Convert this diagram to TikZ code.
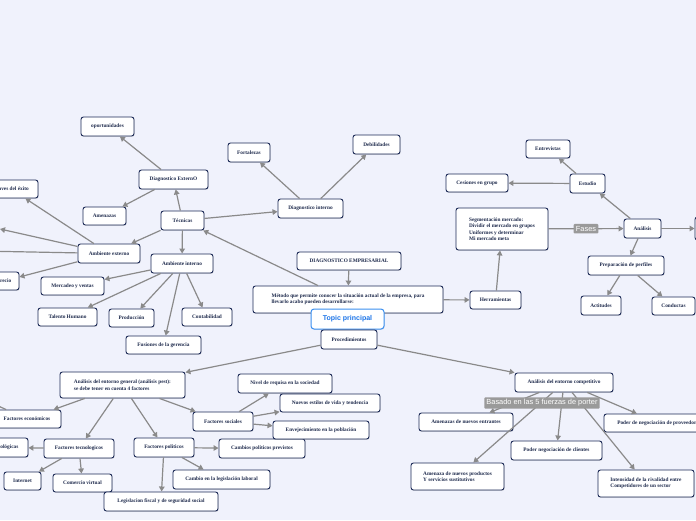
\documentclass[tikz,border=0pt]{standalone}
\usepackage{fontspec}
\setmainfont{Liberation Serif}
\newfontfamily\sansf{Liberation Sans}
\usetikzlibrary{arrows.meta,shadows}
\definecolor{bgcol}{HTML}{F0F2FC}
\definecolor{navy}{HTML}{1C2A56}
\definecolor{navytext}{HTML}{1F2B4D}
\definecolor{arrowgray}{HTML}{8A8A8A}
\definecolor{labelgray}{HTML}{9A9A9A}
\definecolor{topicblue}{HTML}{3B8FF0}
\definecolor{topictext}{HTML}{1A73E8}
\newcommand{\boxfont}{\fontsize{5.3}{6.4}\selectfont\bfseries}
\newcommand{\lblfont}{\sansf\fontsize{7.4}{8}\selectfont}
\tikzset{
  box/.style={draw=navy, fill=white, rounded corners=2.5pt, line width=0.9pt,
    font=\boxfont, text=navytext, inner sep=2pt, align=center, minimum height=19pt,
    drop shadow={opacity=0.25, shadow xshift=0.6pt, shadow yshift=-0.9pt}},
  con/.style={draw=arrowgray, line width=1.2pt, -{Triangle[length=5pt,width=5.5pt]}},
  plainline/.style={draw=arrowgray, line width=1.2pt},
  lbl/.style={fill=labelgray, text=white, font=\lblfont, inner sep=2.2pt, rounded corners=1pt},
  topic/.style={draw=topicblue, fill=white, rounded corners=3pt, line width=1pt,
    font=\sansf\fontsize{7}{8}\selectfont\bfseries, text=topictext, minimum height=20pt,
    minimum width=73pt, drop shadow={opacity=0.2, shadow xshift=0.6pt, shadow yshift=-0.9pt}}
}
\begin{document}
\begin{tikzpicture}[x=1pt,y=-1pt]
\useasboundingbox (0,0) rectangle (696,520);
\fill[bgcol] (0,0) rectangle (696,520);
\clip (0,0) rectangle (696,520);

% ---- nodes ----
\node[box, minimum width=53pt] (opor) at (107.5,126.5) {oportunidades};
\node[box, minimum width=69pt] (dext) at (173.5,179.5) {Diagnostico ExternO};
\node[box, minimum width=43pt, minimum height=18pt] (amen) at (104.5,216) {Amenazas};
\node[box, minimum width=43pt] (tec) at (182.5,220.5) {Técnicas};
\node[box, minimum width=62pt] (aext) at (109,253.5) {Ambiente externo};
\node[box, minimum width=62pt] (aint) at (182,263.5) {Ambiente interno};
\node[box, minimum width=54pt, minimum height=18pt] (claves) at (11,189) {Claves del éxito};
\node[box, minimum width=30pt, minimum height=18pt] (precio) at (4,281) {Precio};
\node[box, minimum width=63pt, minimum height=18pt] (merc) at (72.5,286) {Mercadeo y ventas};
\node[box, minimum width=59pt, minimum height=18pt] (tal) at (67.5,317) {Talento Humano};
\node[box, minimum width=45pt, minimum height=18pt] (prod) at (131.5,318) {Producción};
\node[box, minimum width=50pt, minimum height=18pt] (cont) at (207,317) {Contabilidad};
\node[box, minimum width=75pt, minimum height=18pt] (fus) at (163.5,345) {Fusiones de la gerencia};
\node[box, minimum width=42pt] (fort) at (249,152.5) {Fortalezas};
\node[box, minimum width=47pt] (deb) at (376.5,144.5) {Debilidades};
\node[box, minimum width=65pt] (dint) at (310.5,208.5) {Diagnostico interno};
\node[box, minimum width=104pt, minimum height=18pt] (demp) at (349,261) {DIAGNOSTICO EMPRESARIAL};
\node[box, minimum width=190pt, minimum height=27pt, align=left] (met) at (348,299.5)
  {Método que permite conocer la situación actual de la empresa, para\\llevarlo acabo pueden desarrollarse:};
\node[topic] (topic) at (347.5,319) {Topic principal};
\node[box, minimum width=56pt] (proc) at (349,339.5) {Procedimientos};
\node[box, minimum width=51pt, minimum height=18pt] (herr) at (495.5,300) {Herramientas};
\node[box, minimum width=92pt, minimum height=42pt, align=left] (seg) at (502,229)
  {Segmentación mercado:\\Dividir el mercado en grupos\\Uniformes y determinar\\Mi mercado meta};
\node[box, minimum width=37pt] (anal) at (642.5,228.5) {Análisis};
\node[box, minimum width=50pt, minimum height=23pt] (rnode) at (720,228.5) {};
\node[box, minimum width=35pt] (est) at (587.5,183.5) {Estudio};
\node[box, minimum width=44pt, minimum height=18pt] (entr) at (548,149) {Entrevistas};
\node[box, minimum width=62pt, minimum height=18pt] (ces) at (477,183) {Cesiones en grupo};
\node[box, minimum width=76pt] (prep) at (626,265.5) {Preparación de perfiles};
\node[box, minimum width=40pt] (act) at (601,305.5) {Actitudes};
\node[box, minimum width=43pt, minimum height=18pt] (condu) at (673.5,306) {Conductas};

\node[box, minimum width=125pt, minimum height=26pt, align=left] (eg) at (122.5,385)
  {Análisis del entorno general (análisis pest):\\se debe tener en cuenta 4 factores};
\node[box, minimum width=68pt, minimum height=18pt] (econ) at (27,419) {Factores económicos};
\node[box, minimum width=48pt] (tecnol) at (4,447.5) {Tecnológicas};
\node[box, minimum width=70pt] (ftec) at (79,448.5) {Factores tecnologicos};
\node[box, minimum width=37pt, minimum height=18pt] (inet) at (22.5,481) {Internet};
\node[box, minimum width=59pt, minimum height=18pt] (comv) at (82.5,483) {Comercio virtual};
\node[box, minimum width=60pt] (fpol) at (164,447.5) {Factores politicos};
\node[box, minimum width=114pt] (legf) at (161,501.5) {Legislacion fiscal y de seguridad social};
\node[box, minimum width=97pt] (camb) at (221.5,479.5) {Cambio en la legislación laboral};
\node[box, minimum width=86pt] (cpol) at (262,448.5) {Cambios politicos previstos};
\node[box, minimum width=60pt] (fsoc) at (223,421.5) {Factores sociales};
\node[box, minimum width=94pt] (niv) at (285,383.5) {Nivel de requisa en la sociedad};
\node[box, minimum width=100pt, minimum height=18pt] (nue) at (330,403) {Nuevos estilos de vida y tendencia};
\node[box, minimum width=96pt, minimum height=18pt] (env) at (321,430) {Envejecimiento en la población};

\node[box, minimum width=98pt] (ec) at (564,382.5) {Análisis del entorno competitivo};
\node[box, minimum width=94pt, minimum height=18pt] (amne) at (466,422) {Amenazas de nuevos entrantes};
\node[box, minimum width=91pt] (pcli) at (556.5,450.5) {Poder negociación de clientes};
\node[box, minimum width=93pt, minimum height=27pt, align=left] (anp) at (457.5,476.5)
  {Amenaza de nuevos productos\\Y servicios sustitutivos};
\node[box, minimum width=96pt, minimum height=27pt, align=left] (intr) at (646,483.5)
  {Intensidad de la rivalidad entre\\Competidores de un sector};
\node[box, minimum width=110pt, minimum height=18pt] (pprov) at (659,423) {Poder de negociación de proveedores};

\coordinate (offA) at (0,229);
\coordinate (offB) at (-20,251);
\coordinate (offC) at (-15,400);

% ---- connectors ----
\draw[con] (dext) -- (opor);
\draw[con] (dext) -- (amen);
\draw[con] (tec) -- (dext);
\draw[con] (tec) -- (aext);
\draw[con] (tec) -- (aint);
\draw[con] (tec) -- (dint);
\draw[con] ([xshift=-30pt]met.north) -- (tec);
\draw[con] (dint) -- (fort);
\draw[con] (dint) -- (deb);
\draw[con] (demp) -- (met);
\draw[con] (met) -- (herr);
\draw[con] (herr) -- (seg);
\draw[con] (seg) -- node[lbl] (fases) {Fases} (anal);
\draw[con] (anal) -- (est);
\draw[con] (est) -- (entr);
\draw[con] (est) -- (ces);
\draw[con] (anal) -- (rnode);
\draw[con] (anal) -- (prep);
\draw[con] (prep) -- (act);
\draw[con] (prep) -- (condu);
\draw[con] (aext) -- (claves);
\draw[con] (aext) -- (offA);
\draw[plainline] (aext) -- (offB);
\draw[con] (aext) -- (precio);
\draw[con] (aint) -- (merc);
\draw[con] (aint) -- (tal);
\draw[con] (aint) -- (prod);
\draw[con] (aint) -- (fus);
\draw[con] (aint) -- (cont);
\draw[con] (proc) -- (eg);
\draw[con] (proc) -- (ec);
\draw[con] (eg) -- (econ);
\draw[con] (eg) -- (ftec);
\draw[con] (eg) -- (fpol);
\draw[con] (eg) -- (fsoc);
\draw[con] (econ) -- (offC);
\draw[con] (ftec) -- (tecnol);
\draw[con] (ftec) -- (inet);
\draw[con] (ftec) -- (comv);
\draw[con] (fpol) -- (legf);
\draw[con] (fpol) -- (camb);
\draw[con] (fpol) -- (cpol);
\draw[con] (fsoc) -- (niv);
\draw[con] (fsoc) -- (nue);
\draw[con] (fsoc) -- (env);
\draw[con] (ec) -- (amne);
\draw[con] (ec) -- (anp);
\draw[con] (ec) -- (pcli);
\draw[con] (ec) -- (intr);
\draw[con] (ec) -- (pprov);
\node[lbl] (basado) at (542,403) {Basado en las 5 fuerzas de porter};
\end{tikzpicture}
\end{document}
